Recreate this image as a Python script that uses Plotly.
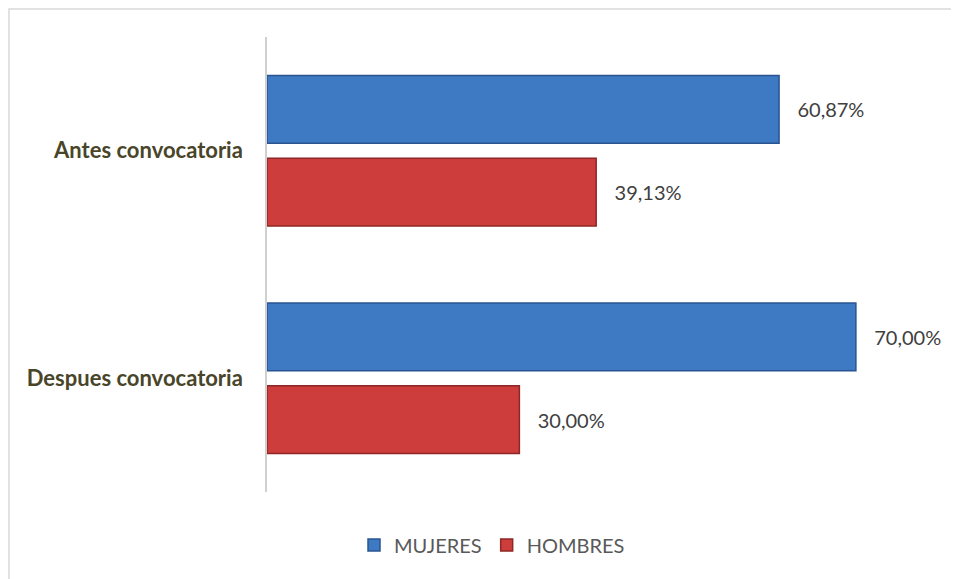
import plotly.graph_objects as go

categories = ["Antes convocatoria", "Despues convocatoria"]
mujeres = [60.87, 70.00]
hombres = [39.13, 30.00]
series_names = ["MUJERES", "HOMBRES"]

# page body adds an 8px offset; layout numbers are in figure coordinates
W, H = 959, 579
L, R, T, B = 259, 27, 29, 95
pw, ph = W - L - R, H - T - B

fig = go.Figure()
fig.add_trace(go.Bar(
    y=categories, x=mujeres, name=series_names[0], orientation="h",
    marker=dict(color="#3E7AC4", line=dict(color="#2A5490", width=1.5)),
    texttemplate="\u00a0\u00a0\u00a0%{x:.2f}%", textposition="outside",
    textfont=dict(size=20, color="#404040", family="Lato"), cliponaxis=False,
))
fig.add_trace(go.Bar(
    y=categories, x=hombres, name=series_names[1], orientation="h",
    marker=dict(color="#CC3D3B", line=dict(color="#8E2725", width=1.5)),
    texttemplate="\u00a0\u00a0\u00a0%{x:.2f}%", textposition="outside",
    textfont=dict(size=20, color="#404040", family="Lato"), cliponaxis=False,
))

# chart border
fig.add_shape(type="rect", xref="paper", yref="paper",
              x0=(1 - L) / pw, x1=(W + 20 - L) / pw,
              y0=(H - B - (H + 20)) / ph, y1=(H - B - 1) / ph,
              line=dict(color="#D9D9D9", width=1.5), fillcolor="rgba(0,0,0,0)", layer="below")

fig.update_layout(
    width=W, height=H,
    margin=dict(l=L, r=R, t=T, b=B),
    paper_bgcolor="white", plot_bgcolor="white",
    barmode="group", bargap=0.272, bargroupgap=0.18,
    separators=",.",
    font=dict(family="Lato", color="#404040"),
    showlegend=True,
    legend=dict(orientation="h", x=(484 - L) / pw, xanchor="center",
                y=(H - B - 537) / ph, yanchor="middle",
                font=dict(size=20, color="#595959", family="Lato"),
                traceorder="normal", itemwidth=30),
    xaxis=dict(range=[0, 80], visible=False, showgrid=False, zeroline=False),
    yaxis=dict(autorange="reversed", showline=True, linecolor="#D0D0D0", linewidth=1.5,
               ticks="", showgrid=False, ticklabelstandoff=18,
               tickfont=dict(size=22, color="#494529", family="Lato", weight="bold")),
)

fig.write_html("out.html")
